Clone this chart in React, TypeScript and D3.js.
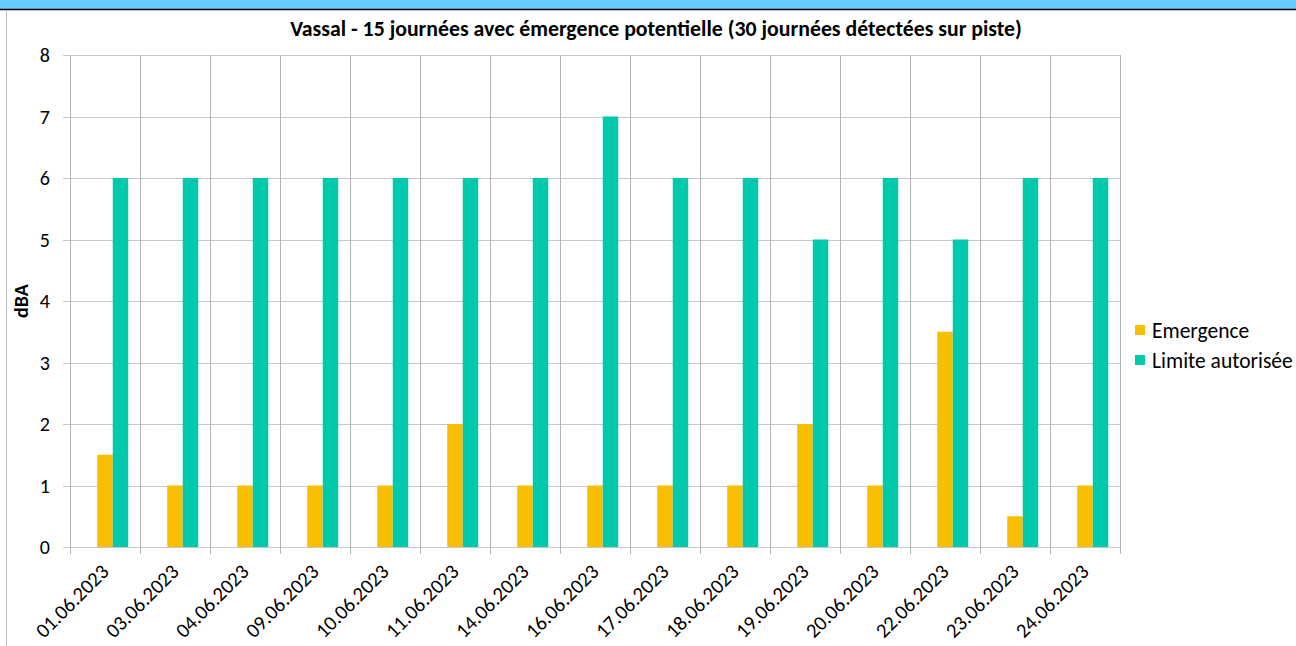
import React, { useEffect, useRef } from 'react';
import * as d3 from 'd3';

const dates = ['01.06.2023', '03.06.2023', '04.06.2023', '09.06.2023', '10.06.2023', '11.06.2023', '14.06.2023', '16.06.2023', '17.06.2023', '18.06.2023', '19.06.2023', '20.06.2023', '22.06.2023', '23.06.2023', '24.06.2023'];
const emergence = [1.5, 1, 1, 1, 1, 2, 1, 1, 1, 1, 2, 1, 3.5, 0.5, 1];
const limite = [6, 6, 6, 6, 6, 6, 6, 7, 6, 6, 5, 6, 5, 6, 6];
const seriesNames = ['Emergence', 'Limite autorisée'];
const yTicks = [0, 1, 2, 3, 4, 5, 6, 7, 8];

const W = 1296;
const H = 646;
const font = 'Calibri, Carlito, "Open Sans", sans-serif';

const App = () => {
  const ref = useRef<SVGSVGElement>(null);

  useEffect(() => {
    const svg = d3.select(ref.current);
    svg.selectAll('*').remove();

    // top band
    svg.append('rect').attr('x', 0).attr('y', 0).attr('width', W).attr('height', 9).attr('fill', '#66CCFF');
    svg.append('line').attr('x1', 0).attr('x2', W).attr('y1', 9.5).attr('y2', 9.5).attr('stroke', '#000').attr('stroke-width', 1.5);
    svg.append('line').attr('x1', 6.5).attr('x2', 6.5).attr('y1', 10).attr('y2', H).attr('stroke', '#c0c0c0');

    const left = 70, right = 1120, top = 55, bottom = 547;

    const x = d3.scaleBand().domain(dates).range([left, right]).padding(0);
    const y = d3.scaleLinear().domain([0, 8]).range([bottom, top]);
    const barW = 15.5;

    const g = svg.append('g');

    // horizontal grid + ticks
    g.selectAll('.hgrid').data(yTicks).enter().append('line')
      .attr('x1', left - 7).attr('x2', right)
      .attr('y1', d => Math.round(y(d)) + 0.5).attr('y2', d => Math.round(y(d)) + 0.5)
      .attr('stroke', '#c8c8c8').attr('stroke-width', 1.2);

    // vertical grid at category boundaries
    const bounds = dates.map(d => x(d)!).concat([right]);
    g.selectAll('.vgrid').data(bounds).enter().append('line')
      .attr('x1', d => Math.round(d) + 0.5).attr('x2', d => Math.round(d) + 0.5)
      .attr('y1', top).attr('y2', bottom + 7)
      .attr('stroke', '#b4b4b4');

    // three slots per category, first one empty
    const colors = ['#F9BE00', '#00C9AC'];
    [emergence, limite].forEach((vals, si) => {
      g.selectAll(`.bar${si}`).data(vals).enter().append('rect')
        .attr('x', (d, i) => x(dates[i])! + x.bandwidth() / 2 - 1.5 * barW + (si + 1) * barW)
        .attr('y', d => y(d))
        .attr('width', barW)
        .attr('height', d => y(0) - y(d))
        .attr('fill', colors[si]);
    });

    // y labels
    g.selectAll('.ylab').data(yTicks).enter().append('text')
      .attr('x', 50).attr('y', d => y(d) + 7)
      .attr('text-anchor', 'end')
      .attr('font-family', font).attr('font-size', 20).attr('fill', '#000')
      .text(d => d);

    // x labels
    g.selectAll('.xlab').data(dates).enter().append('text')
      .attr('transform', d => `translate(${x(d)! + x.bandwidth() / 2 + 5},${bottom + 26}) rotate(-45)`)
      .attr('text-anchor', 'end')
      .attr('font-family', font).attr('font-size', 20.5).attr('fill', '#000')
      .text(d => d);

    // y title
    svg.append('text')
      .attr('transform', `translate(28,${(top + bottom) / 2}) rotate(-90)`)
      .attr('text-anchor', 'middle')
      .attr('font-family', font).attr('font-size', 20).attr('font-weight', 'bold')
      .text('dBA');

    // title
    svg.append('text')
      .attr('x', 656).attr('y', 36)
      .attr('text-anchor', 'middle')
      .attr('font-family', font).attr('font-size', 21.8).attr('font-weight', 'bold')
      .text('Vassal - 15 journées avec émergence potentielle (30 journées détectées sur piste)');

    // legend
    const leg = svg.append('g');
    seriesNames.forEach((name, i) => {
      leg.append('rect').attr('x', 1135).attr('y', 325 + i * 30).attr('width', 10).attr('height', 10).attr('fill', colors[i]);
      leg.append('text').attr('x', 1152).attr('y', 338 + i * 30)
        .attr('font-family', font).attr('font-size', 21.5).attr('fill', '#000')
        .text(name);
    });
  }, []);

  return (
    <svg ref={ref} width={W} height={H} style={{ position: 'absolute', left: 0, top: 0, background: '#fff' }} />
  );
};

export default App;
